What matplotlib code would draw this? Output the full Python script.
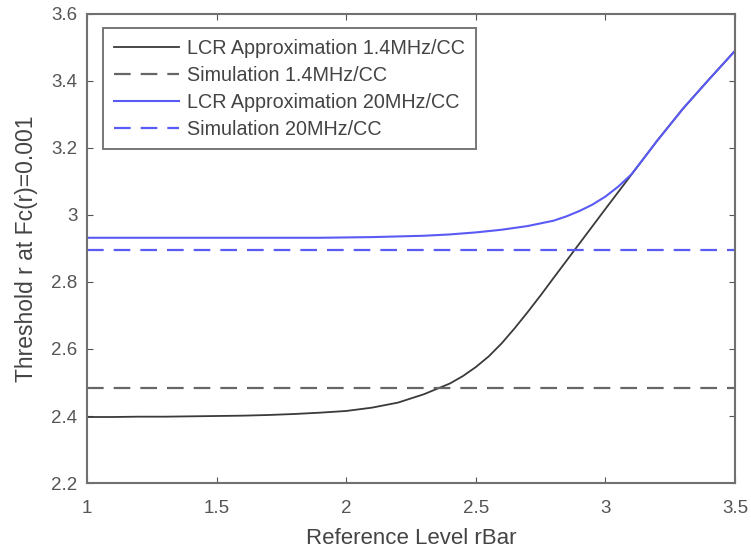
import matplotlib
matplotlib.use("Agg")
import matplotlib.pyplot as plt

# LCR approximation, 1.4 MHz/CC
x_lcr14 = [1.0, 1.1, 1.2, 1.3, 1.4, 1.5, 1.6, 1.7, 1.8, 1.9, 2.0, 2.1, 2.2, 2.3, 2.4,
           2.45, 2.5, 2.55, 2.6, 2.65, 2.7, 2.75, 2.8, 2.9, 3.0, 3.1, 3.2, 3.3, 3.4, 3.5]
y_lcr14 = [2.397, 2.397, 2.398, 2.398, 2.399, 2.400, 2.401, 2.403, 2.406, 2.410, 2.415,
           2.425, 2.440, 2.465, 2.497, 2.519, 2.546, 2.578, 2.617, 2.662, 2.710, 2.760,
           2.812, 2.915, 3.018, 3.120, 3.222, 3.318, 3.405, 3.490]

# LCR approximation, 20 MHz/CC
x_lcr20 = [1.0, 1.5, 1.9, 2.0, 2.1, 2.2, 2.3, 2.4, 2.5, 2.6, 2.7, 2.8, 2.85, 2.9, 2.95,
           3.0, 3.05, 3.1, 3.15, 3.2, 3.3, 3.4, 3.5]
y_lcr20 = [2.932, 2.932, 2.932, 2.933, 2.934, 2.936, 2.938, 2.942, 2.948, 2.956, 2.967,
           2.983, 2.996, 3.012, 3.031, 3.055, 3.085, 3.121, 3.171, 3.222, 3.318, 3.405, 3.490]

# Simulations (constant levels)
x_sim = [1.0, 3.5]
sim14 = 2.483
sim20 = 2.896

labels = ["LCR Approximation 1.4MHz/CC", "Simulation 1.4MHz/CC",
          "LCR Approximation 20MHz/CC", "Simulation 20MHz/CC"]
xticks = [1, 1.5, 2, 2.5, 3, 3.5]
xtick_labels = ["1", "1.5", "2", "2.5", "3", "3.5"]
yticks = [2.2, 2.4, 2.6, 2.8, 3.0, 3.2, 3.4, 3.6]
ytick_labels = ["2.2", "2.4", "2.6", "2.8", "3", "3.2", "3.4", "3.6"]

plt.rcParams['font.family'] = ['Liberation Sans', 'DejaVu Sans']

fig = plt.figure(figsize=(7.51, 5.48), dpi=100)
ax = fig.add_axes([0.1158, 0.1186, 0.8629, 0.8559])

black = '#3a3a3a'
gray_dash = '#666666'
blue = '#5a5af5'

ax.plot(x_lcr14, y_lcr14, color=black, lw=1.3, label=labels[0])
ax.plot(x_sim, [sim14, sim14], color=gray_dash, lw=1.6, dashes=(7.5, 4.5), label=labels[1])
ax.plot(x_lcr20, y_lcr20, color=blue, lw=1.5, label=labels[2])
ax.plot(x_sim, [sim20, sim20], color=blue, lw=1.6, dashes=(7.5, 4.5), label=labels[3])

ax.set_xlim(1, 3.5)
ax.set_ylim(2.2, 3.6)
ax.set_xticks(xticks)
ax.set_xticklabels(xtick_labels)
ax.set_yticks(yticks)
ax.set_yticklabels(ytick_labels)

ax.tick_params(direction='in', top=True, right=True, length=4, width=0.8,
               colors='#555555', labelsize=13.5)
ax.tick_params(axis='x', pad=12)
ax.tick_params(axis='y', pad=7)
for s in ax.spines.values():
    s.set_color('#707070')
    s.set_linewidth(1.5)

ax.set_xlabel("Reference Level rBar", fontsize=16, color='#444444', labelpad=8)
ax.set_ylabel("Threshold r at Fc(r)=0.001", fontsize=16.5, color='#444444', labelpad=9)

leg = ax.legend(loc='upper left', bbox_to_anchor=(0.0247, 0.970), fontsize=14.2,
                handlelength=3.3, frameon=True, fancybox=False, borderpad=0.55,
                labelspacing=0.4, handletextpad=0.4, borderaxespad=0)
leg.get_frame().set_edgecolor('#555555')
leg.get_frame().set_linewidth(1.4)
for t in leg.get_texts():
    t.set_color('#444444')

fig.savefig("out.png", dpi=100)
